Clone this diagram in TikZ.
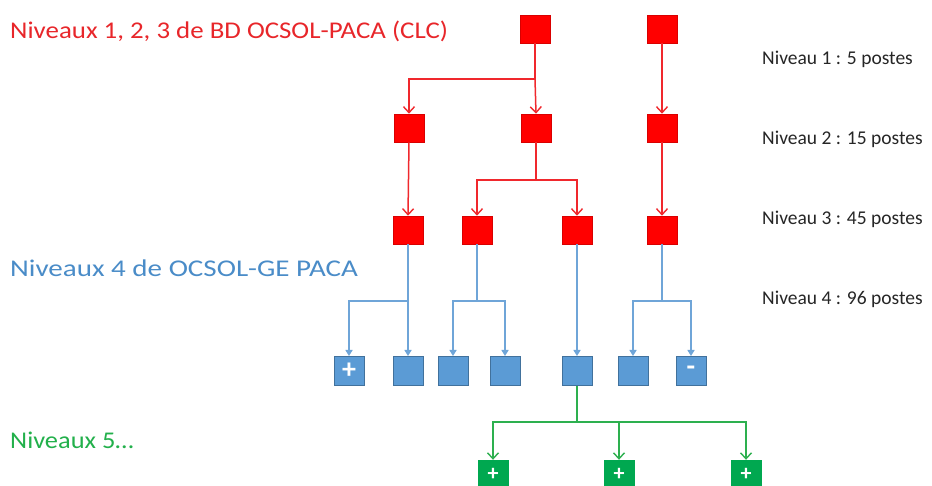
\documentclass[tikz,border=0pt]{standalone}
\usepackage{fontspec}
\usepackage{graphicx}
\setmainfont{Carlito}
\usetikzlibrary{arrows.meta}
\definecolor{rbox}{HTML}{FF0000}
\definecolor{rline}{HTML}{F0282D}
\definecolor{rtext}{HTML}{E8262A}
\definecolor{bbox}{HTML}{5B9BD5}
\definecolor{bborder}{HTML}{41719C}
\definecolor{bline}{HTML}{6FA5D8}
\definecolor{btext}{HTML}{4A8CC8}
\definecolor{gbox}{HTML}{00A850}
\definecolor{gline}{HTML}{2DB04F}
\definecolor{gtext}{HTML}{22B04B}
\definecolor{ktext}{HTML}{262626}
\tikzset{
  redbox/.style={fill=rbox,draw=rbox!85!black,line width=0.6pt,minimum width=30pt,minimum height=28pt,inner sep=0pt},
  bluebox/.style={fill=bbox,draw=bborder,line width=1pt,minimum width=30pt,minimum height=29pt,inner sep=0pt,text=white,font=\bfseries\fontsize{28}{28}\selectfont},
  greenbox/.style={fill=gbox,draw=gbox,minimum width=30pt,minimum height=28pt,inner sep=0pt,text=white,font=\bfseries\fontsize{22}{22}\selectfont},
  ra/.style={draw=rline,line width=1.5pt,-{Straight Barb[length=6pt,width=11pt,line width=1.4pt]}},
  rl/.style={draw=rline,line width=1.5pt},
  ba/.style={draw=bline,line width=1.5pt,-{Triangle[length=6pt,width=7pt]}},
  bl/.style={draw=bline,line width=1.5pt},
  ga/.style={draw=gline,line width=1.5pt,-{Straight Barb[length=6pt,width=11pt,line width=1.4pt]}},
  gl/.style={draw=gline,line width=1.5pt},
  lvl/.style={anchor=west,text=ktext,font=\fontsize{19.5}{19.5}\selectfont,inner sep=0pt},
  ttl/.style={anchor=west,inner sep=0pt,font=\fontsize{24}{24}\selectfont},
}
\begin{document}
\begin{tikzpicture}[x=1pt,y=-1pt]
\useasboundingbox[fill=white] (0,0) rectangle (932,486);
% titles
\node[ttl,text=rtext] (t1) at (10,31) {\scalebox{1.12}[1]{Niveaux 1, 2, 3 de BD OCSOL-PACA (CLC)}};
\node[ttl,text=btext] (t4) at (10,268) {\scalebox{1.21}[1]{Niveaux 4 de OCSOL-GE PACA}};
\node[ttl,text=gtext] (t5) at (10,440) {\scalebox{1.1}[1]{Niveaux 5\dots}};
\node[lvl] (n1) at (762,59) {Niveau 1 : 5 postes};
\node[lvl] (n2) at (762,139) {Niveau 2 : 15 postes};
\node[lvl] (n3) at (762,219) {Niveau 3 : 45 postes};
\node[lvl] (n4) at (762,299) {Niveau 4 : 96 postes};
% red level 1
\node[redbox] (a1) at (535,29) {};
\node[redbox] (a2) at (662,29) {};
% red level 2
\node[redbox] (b1) at (409,128) {};
\node[redbox] (b2) at (536,128) {};
\node[redbox] (b3) at (662,128) {};
% red level 3
\node[redbox] (c1) at (408,230) {};
\node[redbox] (c2) at (477,230) {};
\node[redbox] (c3) at (577,230) {};
\node[redbox] (c4) at (662,230) {};
% blue level 4
\node[bluebox] (d1) at (349,371) {+};
\node[bluebox] (d2) at (408,371) {};
\node[bluebox] (d3) at (453,371) {};
\node[bluebox] (d4) at (505,371) {};
\node[bluebox] (d5) at (577,371) {};
\node[bluebox] (d6) at (633,371) {};
\node[bluebox] (d7) at (691,371) {-};
% green level 5
\node[greenbox] (e1) at (493,474) {+};
\node[greenbox] (e2) at (619,474) {+};
\node[greenbox] (e3) at (746,474) {+};
% red connectors
\coordinate (j1) at (535,79);
\draw[rl] (a1.south) -- (j1);
\draw[ra] (j1) -| (b1.north);
\draw[ra] (j1) -- (b2.north);
\draw[ra] (a2.south) -- (b3.north);
\draw[ra] (b1.south) -- (c1.north);
\coordinate (j2) at (536,180);
\draw[rl] (b2.south) -- (j2);
\draw[ra] (j2) -| (c2.north);
\draw[ra] (j2) -| (c3.north);
\draw[ra] (b3.south) -- (c4.north);
% blue connectors
\coordinate (k1) at (408,301);
\draw[bl] (c1.south) -- (k1);
\draw[ba] (k1) -| (d1.north);
\draw[ba] (k1) -- (d2.north);
\coordinate (k2) at (477,301);
\draw[bl] (c2.south) -- (k2);
\draw[ba] (k2) -| (d3.north);
\draw[ba] (k2) -| (d4.north);
\draw[ba] (c3.south) -- (d5.north);
\coordinate (k4) at (662,301);
\draw[bl] (c4.south) -- (k4);
\draw[ba] (k4) -| (d6.north);
\draw[ba] (k4) -| (d7.north);
% green connectors
\coordinate (m1) at (577,422);
\draw[gl] (d5.south) -- (m1);
\draw[ga] (m1) -| (e1.north);
\draw[ga] (m1) -| (e2.north);
\draw[ga] (m1) -| (e3.north);
\end{tikzpicture}
\end{document}
